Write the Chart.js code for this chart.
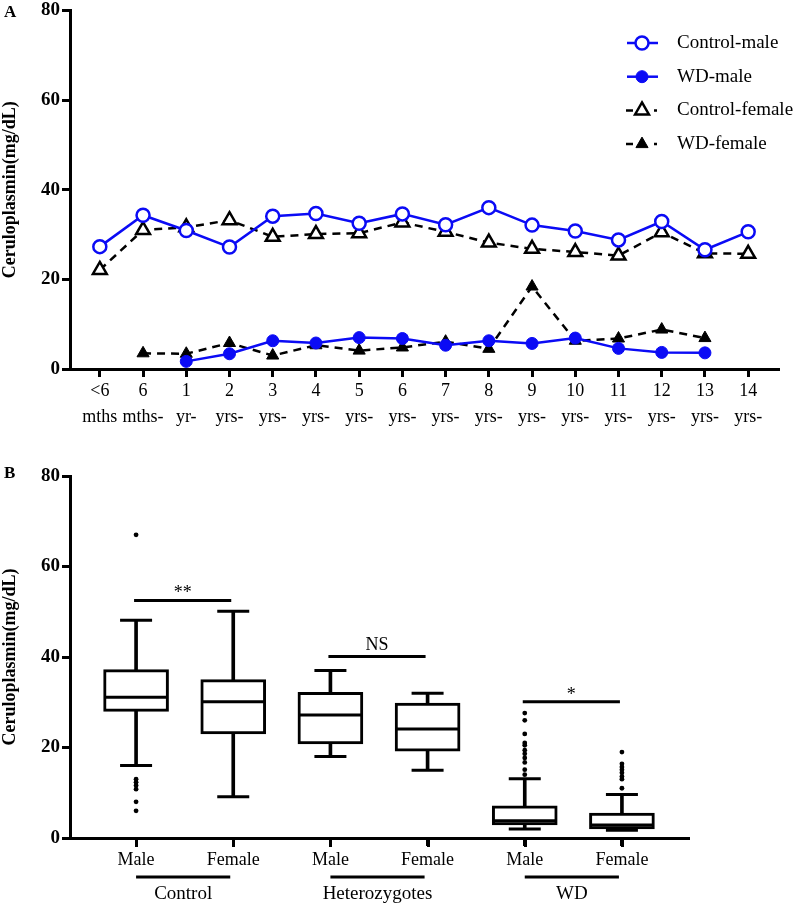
<!DOCTYPE html>
<html lang="en">
<head>
  <meta charset="UTF-8" />
  <title>Ceruloplasmin by age, sex and group</title>
  <script src="https://cdn.jsdelivr.net/npm/chart.js"></script>
  <style>
    body { margin: 0; background: #fff; }
    .wrap { position: relative; width: 796px; height: 904px; overflow: hidden; }
    #lineChart { position: absolute; left: 0; top: -3px; }
    #boxChart { position: absolute; left: 0; top: 440px; }
  </style>
</head>
<body>
<div class="wrap">
  <canvas id="lineChart" width="796" height="433"></canvas>
  <canvas id="boxChart" width="796" height="464"></canvas>
</div>
<script>
// ---- panel A: age groups ----
const ageNums = ['<6', '6', '1', '2', '3', '4', '5', '6', '7', '8', '9', '10', '11', '12', '13', '14'];
const ageUnits = ['mths', 'mths-', 'yr-', 'yrs-', 'yrs-', 'yrs-', 'yrs-', 'yrs-', 'yrs-', 'yrs-', 'yrs-', 'yrs-', 'yrs-', 'yrs-', 'yrs-', 'yrs-'];
const controlMale   = [27.3, 34.3, 30.9, 27.2, 34.1, 34.7, 32.5, 34.6, 32.2, 36.0, 32.1, 30.8, 28.8, 32.9, 26.6, 30.6];
const wdMale        = [null, null, 1.7, 3.4, 6.3, 5.8, 7.0, 6.8, 5.3, 6.3, 5.7, 6.9, 4.6, 3.7, 3.6, null];
const controlFemale = [22.1, 31.0, 31.6, 33.2, 29.5, 30.1, 30.3, 32.7, 30.6, 28.2, 26.8, 26.1, 25.3, 30.5, 25.8, 25.7];
const wdFemale      = [null, 3.5, 3.4, 5.8, 3.0, 5.3, 4.1, 4.8, 6.1, 4.5, 18.4, 6.3, 6.8, 8.8, 6.9, null];
const yTicksA = [0, 20, 40, 60, 80];

// ---- panel B: box plots ----
const boxLabels = ['Male', 'Female', 'Male', 'Female', 'Male', 'Female'];
const groupNames = ['Control', 'Heterozygotes', 'WD'];
const whiskerLow  = [16.0, 9.1, 18.0, 15.0, 2.0, 1.7];
const q1          = [28.0, 23.0, 20.8, 19.2, 2.9, 2.0];
const median      = [31.1, 30.1, 27.2, 24.1, 3.8, 2.9];
const q3          = [37.2, 35.0, 32.2, 29.8, 7.1, 5.5];
const whiskerHigh = [48.1, 50.1, 37.0, 32.0, 13.1, 9.6];
const outliers = [
  [67.0, 13.0, 12.3, 11.6, 10.8, 8.0, 6.0],
  [],
  [],
  [],
  [27.6, 26.0, 23.0, 21.0, 20.5, 19.4, 18.6, 17.7, 16.7, 15.1, 14.0],
  [19.0, 16.4, 15.7, 15.1, 14.4, 13.6, 13.0, 11.0]
];
const sigFrom = [0, 2, 4];
const sigTo = [1, 3, 5];
const sigLevel = [52.5, 40.1, 30.1];
const sigMark = ['**', 'NS', '*'];

const SERIF = "'Liberation Serif', 'Times New Roman', serif";
const BLUE = '#0b0bf5';
Chart.defaults.font.family = SERIF;
Chart.defaults.color = '#000';
Chart.defaults.animation = false;

function markerPath(ctx, style, x, y, r) {
  ctx.beginPath();
  if (style === 'circle') {
    ctx.arc(x, y, r, 0, Math.PI * 2);
  } else {
    for (let k = 0; k < 3; k++) {
      const a = k * 2 * Math.PI / 3;
      const px = x + Math.sin(a) * r, py = y - Math.cos(a) * r;
      if (k === 0) ctx.moveTo(px, py); else ctx.lineTo(px, py);
    }
    ctx.closePath();
  }
}

function axisStyle(extra) {
  return Object.assign({
    offset: false,
    border: { display: true, color: '#000', width: 3 },
    grid: { offset: false, drawOnChartArea: false, drawTicks: true, tickLength: 8, color: '#000', lineWidth: 3 }
  }, extra);
}

// legend + panel letter for chart A
const panelA = {
  id: 'panelA',
  afterDraw(chart) {
    const ctx = chart.ctx;
    ctx.save();
    ctx.fillStyle = '#000';
    ctx.font = 'bold 17px ' + SERIF;
    ctx.textBaseline = 'middle';
    ctx.fillText('A', 4, 16);
    chart.data.datasets.forEach((ds, i) => {
      const y = 46 + i * 33.7;
      ctx.strokeStyle = ds.borderColor;
      ctx.lineWidth = ds.borderWidth;
      ctx.beginPath();
      if (ds.borderDash) {
        ctx.moveTo(626, y); ctx.lineTo(633, y);
        ctx.moveTo(654, y); ctx.lineTo(657, y);
      } else {
        ctx.moveTo(627, y); ctx.lineTo(658, y);
      }
      ctx.stroke();
      markerPath(ctx, ds.pointStyle, 642, y, ds.pointRadius);
      ctx.fillStyle = ds.pointBackgroundColor;
      ctx.fill();
      ctx.lineWidth = ds.pointBorderWidth;
      ctx.strokeStyle = ds.pointBorderColor;
      ctx.stroke();
      ctx.fillStyle = '#000';
      ctx.font = '19px ' + SERIF;
      ctx.fillText(ds.label, 677, y);
    });
    ctx.restore();
  }
};

const toXY = arr => arr.map((v, i) => ({ x: i, y: v }));

new Chart(document.getElementById('lineChart'), {
  type: 'line',
  data: {
    datasets: [
      {
        label: 'Control-male', data: toXY(controlMale),
        borderColor: BLUE, borderWidth: 2.5,
        pointStyle: 'circle', pointRadius: 6.5, pointBorderWidth: 2.5,
        pointBackgroundColor: '#fff', pointBorderColor: BLUE
      },
      {
        label: 'WD-male', data: toXY(wdMale),
        borderColor: BLUE, borderWidth: 2.5,
        pointStyle: 'circle', pointRadius: 6, pointBorderWidth: 1,
        pointBackgroundColor: BLUE, pointBorderColor: BLUE
      },
      {
        label: 'Control-female', data: toXY(controlFemale),
        borderColor: '#000', borderWidth: 2.5, borderDash: [8, 6],
        pointStyle: 'triangle', pointRadius: 8, pointBorderWidth: 2.5,
        pointBackgroundColor: '#fff', pointBorderColor: '#000'
      },
      {
        label: 'WD-female', data: toXY(wdFemale),
        borderColor: '#000', borderWidth: 2.5, borderDash: [8, 6],
        pointStyle: 'triangle', pointRadius: 7, pointBorderWidth: 1,
        pointBackgroundColor: '#000', pointBorderColor: '#000'
      }
    ]
  },
  options: {
    responsive: false,
    layout: { padding: { top: 11, right: 18, left: 0, bottom: 0 } },
    plugins: { legend: { display: false }, tooltip: { enabled: false } },
    elements: { line: { tension: 0 } },
    scales: {
      x: axisStyle({
        type: 'linear', min: -0.69, max: ageNums.length - 1 + 0.69,
        afterBuildTicks: s => { s.ticks = ageNums.map((_, i) => ({ value: i })); },
        afterFit: s => { s.height = 61; },
        ticks: {
          autoSkip: false, maxRotation: 0, padding: 2,
          font: { size: 18, lineHeight: 1.4 },
          callback: v => [ageNums[v], ageUnits[v]]
        }
      }),
      y: axisStyle({
        min: 0, max: 80,
        afterBuildTicks: s => { s.ticks = yTicksA.map(v => ({ value: v })); },
        afterFit: s => { s.width = 70; },
        ticks: { padding: 2, font: { size: 19, weight: 'bold' } },
        title: {
          display: true, text: 'Ceruloplasmin(mg/dL)',
          font: { size: 18, weight: 'bold' }, padding: { top: 0, bottom: 0 }
        }
      })
    }
  },
  plugins: [panelA]
});

// whisker caps, medians, significance bars, group labels for chart B
const panelB = {
  id: 'panelB',
  afterDatasetsDraw(chart) {
    const { ctx, scales: { x, y }, chartArea } = chart;
    ctx.save();
    ctx.strokeStyle = '#000';
    ctx.fillStyle = '#000';
    ctx.lineWidth = 3;
    const hline = (x1, x2, py) => { ctx.beginPath(); ctx.moveTo(x1, py); ctx.lineTo(x2, py); ctx.stroke(); };

    boxLabels.forEach((_, i) => {
      const cx = x.getPixelForValue(i);
      hline(cx - 16, cx + 16, y.getPixelForValue(whiskerLow[i]));
      hline(cx - 16, cx + 16, y.getPixelForValue(whiskerHigh[i]));
      hline(cx - 31, cx + 31, y.getPixelForValue(median[i]));
      // category tick mark under the axis
      ctx.beginPath();
      ctx.moveTo(Math.round(cx) + 0.5, chartArea.bottom);
      ctx.lineTo(Math.round(cx) + 0.5, chartArea.bottom + 9);
      ctx.stroke();
    });

    ctx.textAlign = 'center';
    ctx.textBaseline = 'alphabetic';
    ctx.font = '18px ' + SERIF;
    sigMark.forEach((m, k) => {
      const x1 = x.getPixelForValue(sigFrom[k]) - 2;
      const x2 = x.getPixelForValue(sigTo[k]) - 2;
      const py = y.getPixelForValue(sigLevel[k]);
      hline(x1, x2, py);
      ctx.fillText(m, (x1 + x2) / 2, m === 'NS' ? py - 7 : py - 2);
    });

    ctx.font = '19px ' + SERIF;
    ctx.textBaseline = 'middle';
    groupNames.forEach((g, k) => {
      const x1 = x.getPixelForValue(2 * k);
      const x2 = x.getPixelForValue(2 * k + 1) - 3;
      hline(x1, x2, chartArea.bottom + 39);
      ctx.fillText(g, (x1 + x2) / 2, chartArea.bottom + 56);
    });

    ctx.textAlign = 'left';
    ctx.font = 'bold 17px ' + SERIF;
    ctx.fillText('B', 4, 34);
    ctx.restore();
  }
};

new Chart(document.getElementById('boxChart'), {
  type: 'bar',
  data: {
    datasets: [
      {
        label: 'IQR', grouped: false, barThickness: 65,
        data: boxLabels.map((_, i) => ({ x: i, y: [q1[i], q3[i]] })),
        backgroundColor: '#fff', borderColor: '#000', borderWidth: 3, borderSkipped: false
      },
      {
        label: 'Range', grouped: false, barThickness: 3,
        data: boxLabels.map((_, i) => ({ x: i, y: [whiskerLow[i], whiskerHigh[i]] })),
        backgroundColor: '#000', borderWidth: 0
      },
      {
        type: 'scatter', label: 'Outliers',
        data: outliers.flatMap((arr, i) => arr.map(v => ({ x: i, y: v }))),
        pointRadius: 2.4, pointBackgroundColor: '#000', pointBorderWidth: 0
      }
    ]
  },
  options: {
    responsive: false,
    layout: { padding: { top: 36, right: 108, left: 0, bottom: 0 } },
    plugins: { legend: { display: false }, tooltip: { enabled: false } },
    scales: {
      x: axisStyle({
        type: 'linear', min: -0.68, max: boxLabels.length - 1 + 0.68,
        afterBuildTicks: s => { s.ticks = boxLabels.map((_, i) => ({ value: i })); },
        afterFit: s => { s.height = 66; },
        ticks: {
          autoSkip: false, maxRotation: 0, padding: 3,
          font: { size: 18 },
          callback: v => boxLabels[v]
        }
      }),
      y: axisStyle({
        min: 0, max: 80,
        afterBuildTicks: s => { s.ticks = yTicksA.map(v => ({ value: v })); },
        afterFit: s => { s.width = 70; },
        ticks: { padding: 2, font: { size: 19, weight: 'bold' } },
        title: {
          display: true, text: 'Ceruloplasmin(mg/dL)',
          font: { size: 18, weight: 'bold' }, padding: { top: 0, bottom: 0 }
        }
      })
    }
  },
  plugins: [panelB]
});
</script>
</body>
</html>
